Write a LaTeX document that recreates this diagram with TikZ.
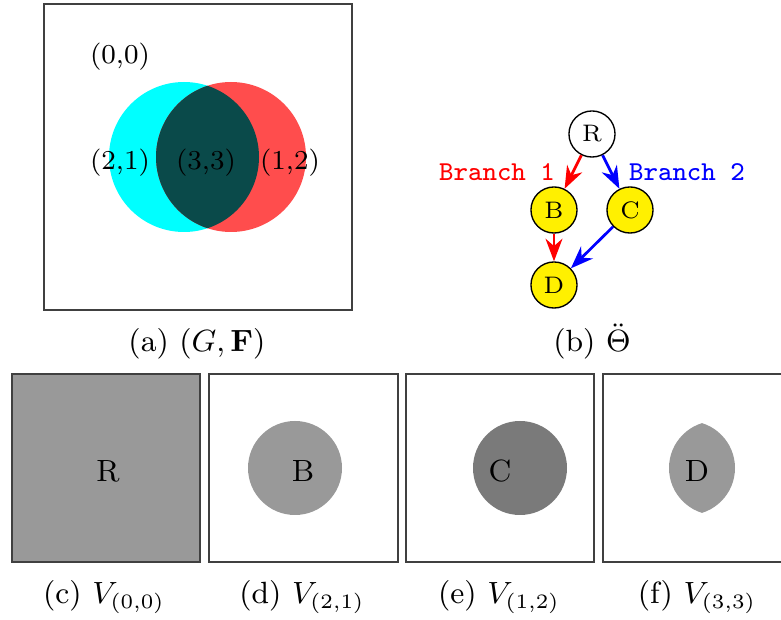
\documentclass[tikz,border=0pt]{standalone}
\usepackage{amsmath}
\usepackage{amssymb}
\usepackage{tikz}
\usetikzlibrary{
    arrows.meta
}

\definecolor{regcyan}{RGB}{0,255,255}
\definecolor{regred}{RGB}{255,77,77}
\definecolor{regdark}{RGB}{10,74,74}
\definecolor{vlight}{RGB}{153,153,153}
\definecolor{vdark}{RGB}{122,122,122}
\definecolor{vyellow}{RGB}{255,240,0}

\begin{document}
\begin{tikzpicture}[x=0.293pt, y=-0.293pt,
    frame/.style={draw=black!75, line width=0.4pt},
    vnode/.style={circle, draw, minimum size=13.5pt, inner sep=0pt, font=\scriptsize},
    branch/.style={font=\footnotesize\ttfamily},
    lbl/.style={font=\footnotesize},
    vlbl/.style={font=\small},
    subcap/.style={font=\small, anchor=base}]

\useasboundingbox (0,0) rectangle (781,620);

% (a) region image
\draw[frame] (44,4) rectangle (352,310);
\fill[regcyan] (184,157) circle (75);
\fill[regred] (231,157) circle (75);
\begin{scope}
  \clip (184,157) circle (75);
  \fill[regdark] (231,157) circle (75);
\end{scope}
\node[lbl] (p00) at (120,57) {(0,0)};
\node[lbl] (p21) at (120,163) {(2,1)};
\node[lbl] (p33) at (206,163) {(3,3)};
\node[lbl] (p12) at (290,163) {(1,2)};
\node[subcap] (capA) at (197,352) {(a) $(G,\mathbf{F})$};

% (b) tree
\node[vnode] (R) at (592,134) {R};
\node[vnode, fill=vyellow] (B) at (554,210) {B};
\node[vnode, fill=vyellow] (C) at (630,210) {C};
\node[vnode, fill=vyellow] (D) at (554,285) {D};
\draw[red, thick, -{Stealth}] (R) -- (B);
\draw[blue, thick, -{Stealth}] (R) -- (C);
\draw[red, thick, -{Stealth}] (B) -- (D);
\draw[blue, thick, -{Stealth}] (C) -- (D);
\node[branch, red] (br1) at (497,172) {Branch 1};
\node[branch, blue] (br2) at (687,172) {Branch 2};
\node[subcap] (capB) at (592,352) {(b) $\ddot{\Theta}$};

% (c) V_(0,0)
\draw[frame, fill=vlight] (12,374) rectangle (200,562);
\node[vlbl] (vR) at (108,471) {R};
\node[subcap] (capC) at (104,604) {(c) $V_{(0,0)}$};

% (d) V_(2,1)
\draw[frame] (209,374) rectangle (398,562);
\fill[vlight] (295,468) circle (47);
\node[vlbl] (vB) at (303,471) {B};
\node[subcap] (capD) at (302,604) {(d) $V_{(2,1)}$};

% (e) V_(1,2)
\draw[frame] (406,374) rectangle (594,562);
\fill[vdark] (520,468) circle (47);
\node[vlbl] (vC) at (500,471) {C};
\node[subcap] (capE) at (499,604) {(e) $V_{(1,2)}$};

% (f) V_(3,3)
\draw[frame] (603,374) rectangle (791,562);
\begin{scope}
  \clip (688,468) circle (47);
  \fill[vlight] (716,468) circle (47);
\end{scope}
\node[vlbl] (vD) at (697,471) {D};
\node[subcap] (capF) at (697,604) {(f) $V_{(3,3)}$};

\end{tikzpicture}
\end{document}
